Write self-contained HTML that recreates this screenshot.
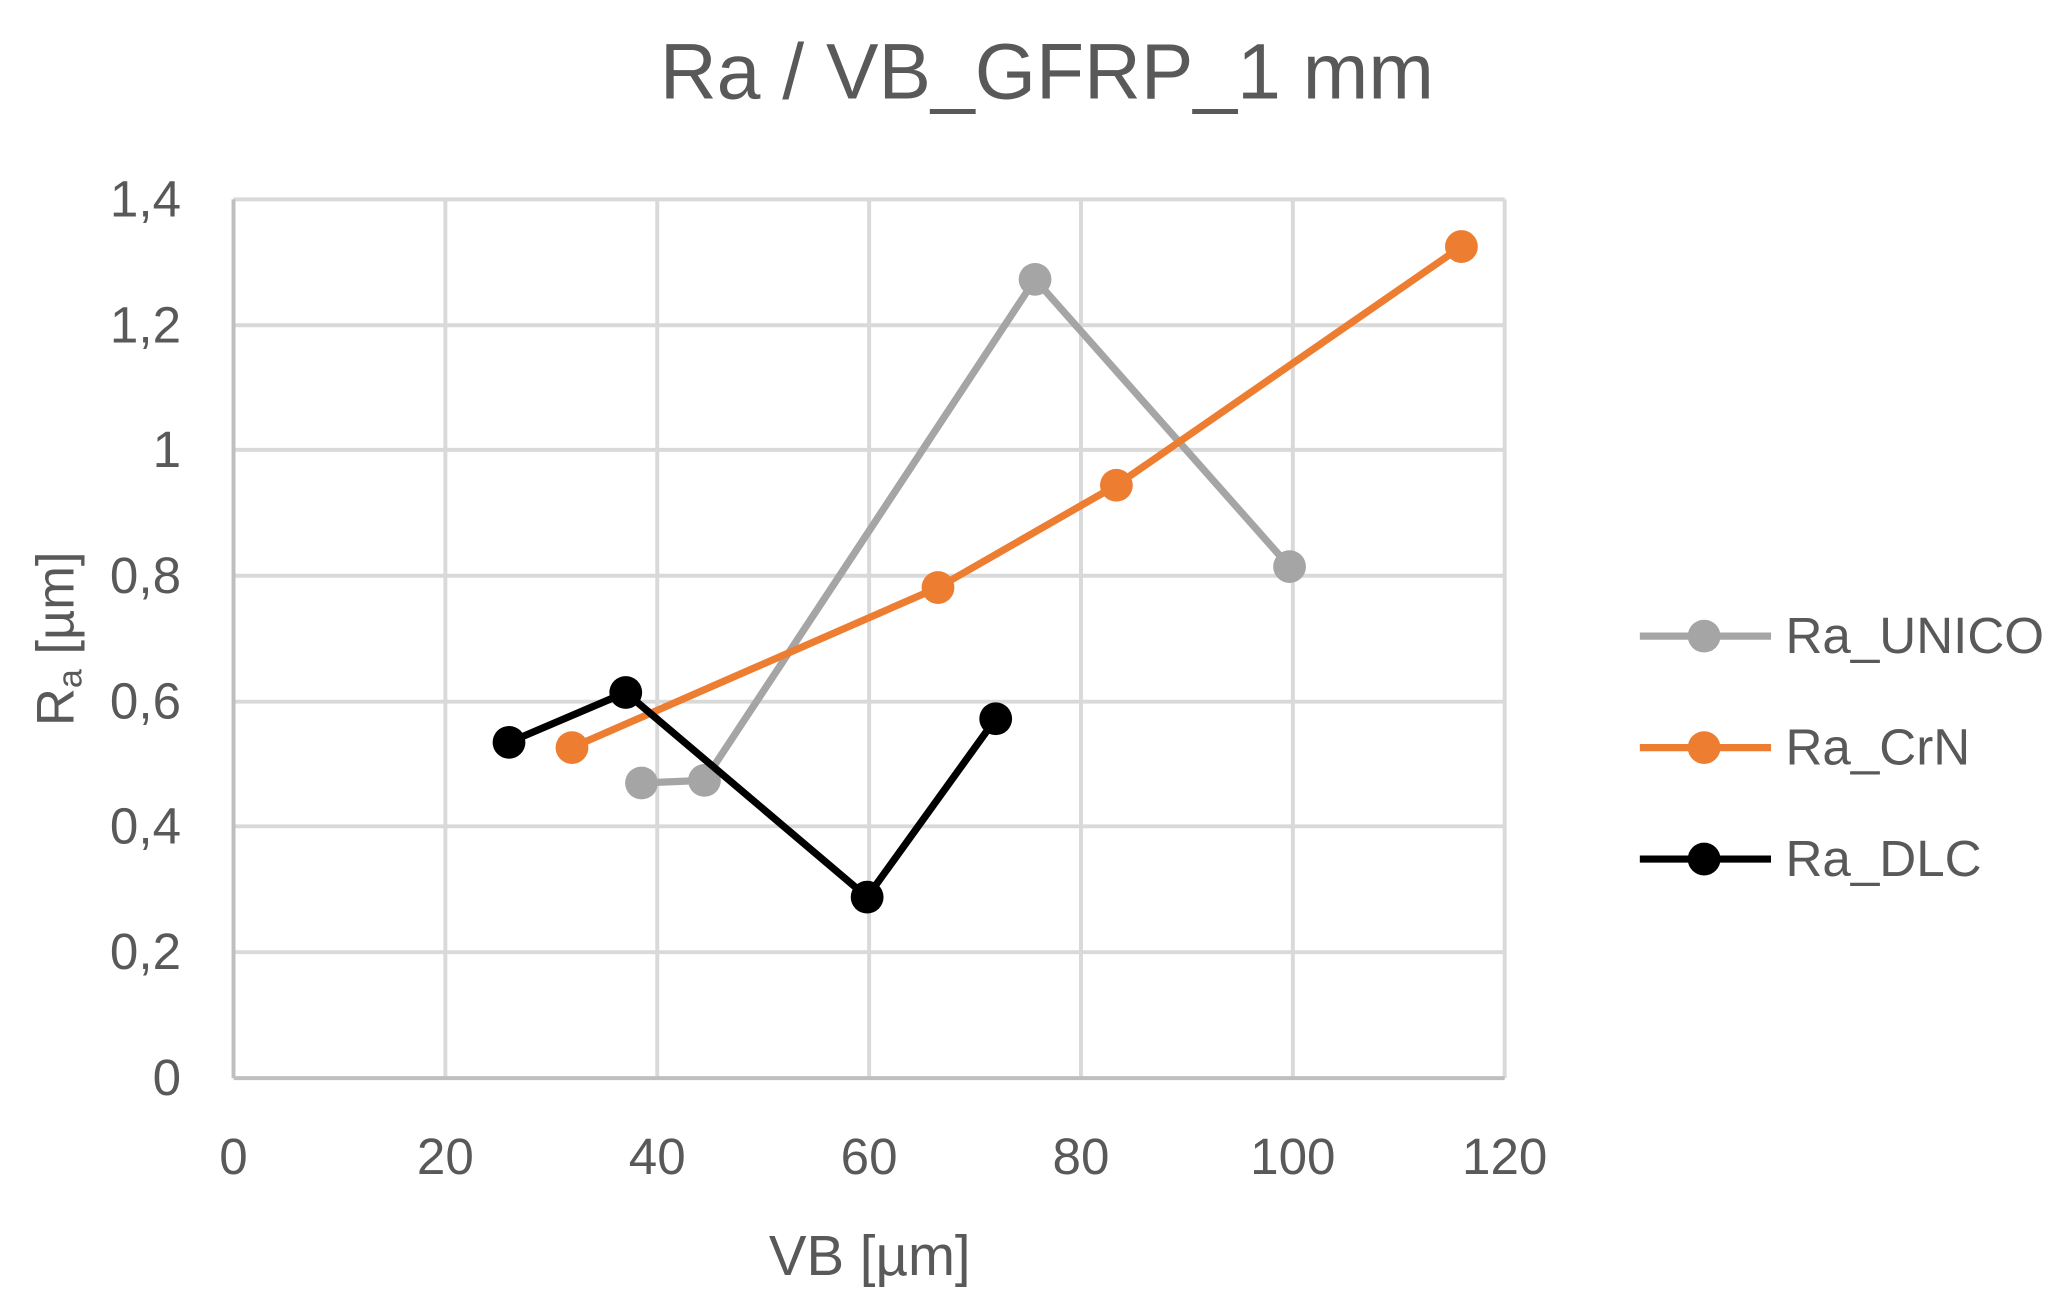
<!DOCTYPE html>
<html><head><style>html,body{margin:0;padding:0;background:#fff}svg{display:block}</style></head>
<body>
<svg width="2057" height="1305" viewBox="0 0 1568 995" preserveAspectRatio="none" xmlns="http://www.w3.org/2000/svg" font-family="'Liberation Sans',sans-serif" fill="#595959">
<rect width="1568" height="995" fill="#fff"/>
<text x="798" y="75" font-size="60" text-anchor="middle">Ra / VB_GFRP_1 mm</text>
<g stroke="#d9d9d9" stroke-width="3">
<line x1="178" y1="152" x2="1147" y2="152"/><line x1="178" y1="248" x2="1147" y2="248"/><line x1="178" y1="343" x2="1147" y2="343"/><line x1="178" y1="439" x2="1147" y2="439"/><line x1="178" y1="535" x2="1147" y2="535"/><line x1="178" y1="630" x2="1147" y2="630"/><line x1="178" y1="726" x2="1147" y2="726"/>
<line x1="339.5" y1="152" x2="339.5" y2="822"/><line x1="501" y1="152" x2="501" y2="822"/><line x1="662.5" y1="152" x2="662.5" y2="822"/><line x1="824" y1="152" x2="824" y2="822"/><line x1="985.5" y1="152" x2="985.5" y2="822"/><line x1="1147" y1="152" x2="1147" y2="822"/>
</g>
<g stroke="#bfbfbf" stroke-width="3"><line x1="178" y1="152" x2="178" y2="822"/><line x1="178" y1="822" x2="1147" y2="822"/></g>
<g font-size="39" text-anchor="end">
<text x="138" y="835">0</text><text x="138" y="739">0,2</text><text x="138" y="643">0,4</text><text x="138" y="548">0,6</text><text x="138" y="452">0,8</text><text x="138" y="356">1</text><text x="138" y="261">1,2</text><text x="138" y="165">1,4</text>
</g>
<g font-size="39" text-anchor="middle">
<text x="178" y="895">0</text><text x="339.5" y="895">20</text><text x="501" y="895">40</text><text x="662.5" y="895">60</text><text x="824" y="895">80</text><text x="985.5" y="895">100</text><text x="1147" y="895">120</text>
<text x="663" y="972" font-size="43">VB [µm]</text>
</g>
<text transform="translate(56,487) rotate(-90)" font-size="40" text-anchor="middle">R<tspan font-size="26" dy="6">a</tspan><tspan dy="-6"> [µm]</tspan></text>
<polyline points="489,597 537,595 789,213 983,432" fill="none" stroke="#a5a5a5" stroke-width="5.5"/>
<g fill="#a5a5a5"><circle cx="489" cy="597" r="12.5"/><circle cx="537" cy="595" r="12.5"/><circle cx="789" cy="213" r="12.5"/><circle cx="983" cy="432" r="12.5"/></g>
<polyline points="436,570 715,448 851,370 1114,188" fill="none" stroke="#ed7d31" stroke-width="5.5"/>
<g fill="#ed7d31"><circle cx="436" cy="570" r="12.5"/><circle cx="715" cy="448" r="12.5"/><circle cx="851" cy="370" r="12.5"/><circle cx="1114" cy="188" r="12.5"/></g>
<polyline points="388,566 477,528 661,684 759,548" fill="none" stroke="#000" stroke-width="5.5"/>
<g fill="#000"><circle cx="388" cy="566" r="12.5"/><circle cx="477" cy="528" r="12.5"/><circle cx="661" cy="684" r="12.5"/><circle cx="759" cy="548" r="12.5"/></g>
<line x1="1250" y1="485" x2="1350" y2="485" stroke="#a5a5a5" stroke-width="5.5"/><circle cx="1299" cy="485" r="12.5" fill="#a5a5a5"/>
<line x1="1250" y1="570" x2="1350" y2="570" stroke="#ed7d31" stroke-width="5.5"/><circle cx="1299" cy="570" r="12.5" fill="#ed7d31"/>
<line x1="1250" y1="655" x2="1350" y2="655" stroke="#000" stroke-width="5.5"/><circle cx="1299" cy="655" r="12.5" fill="#000"/>
<g font-size="39"><text x="1361" y="498">Ra_UNICO</text><text x="1361" y="583">Ra_CrN</text><text x="1361" y="668">Ra_DLC</text></g>
</svg>
</body></html>
